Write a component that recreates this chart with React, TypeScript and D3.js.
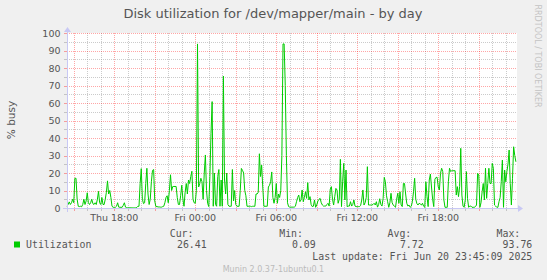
import React from "react";
import * as d3 from "d3";

// ---- data (5-minute samples starting Thu 14:30, hours offset) ----
const STEP_HOURS = 5 / 60;
const SPAN_HOURS = 120000 / 3600; // Thu 14:30 -> Fri 23:50

const utilization: number[] = [
  1, 2, 3.5, 2, 3, 5, 3, 17, 17, 5, 1, 0.8, 1, 0.7, 2, 5, 2, 4, 8.7, 3,
  2, 3, 5, 2.5, 2, 3, 2, 5, 9.5, 3, 2, 6, 2, 2, 5, 9, 15.5, 8, 10, 6,
  1, 0.4, 0.4, 0.4, 1, 3, 0.5, 0.4, 0.4, 0.4, 1.5, 3, 0.5, 0.2, 0.1, 0.1, 0.1, 0.1, 0.1, 0.1,
  0.1, 0.1, 0.3, 1, 1, 14, 22.5, 5, 2.5, 3, 14, 22.7, 8, 2, 5, 15, 21.5, 22, 4, 0.8,
  0.8, 0.6, 0.6, 0.5, 0.5, 0.8, 1, 3, 6, 7, 3, 10, 19, 10, 12.3, 12.3, 12.3, 12.3, 6, 2,
  2, 7, 13, 5, 1, 9, 14, 8, 16, 14, 18, 21, 5, 3, 2.7, 10, 93.76, 12, 14, 17,
  15, 5, 20, 30.3, 10, 2.7, 0.8, 18, 42.7, 60.8, 1, 20, 2, 1, 18, 22, 1, 16, 1, 75.4,
  16, 8, 20, 2, 1, 1, 1, 22, 4, 10, 2, 1, 1, 1, 10, 22.6, 21.5, 20, 10, 7,
  1, 1, 1, 1, 0.8, 1, 1, 1, 8, 8, 9, 31, 18, 24.5, 12, 1, 1, 1, 1, 12,
  13, 15, 20.6, 6, 2.7, 6, 14, 2.7, 8, 6, 10, 30, 93.76, 93.76, 70, 30, 3, 0.8, 0.5, 0.5,
  0.5, 0.5, 0.5, 1, 3.6, 6, 7.4, 3.6, 4.6, 10.3, 3.6, 6, 9.3, 5.5, 14.5, 4.6, 6.5, 2, 0.8, 1,
  4.6, 0.4, 1.7, 4, 5, 5.5, 3, 1.7, 1.1, 1.1, 1.1, 2, 2.7, 1.1, 10.7, 12.2, 5, 1.7, 6.5, 11.2,
  10.3, 2.7, 5, 27.8, 0.8, 15, 25.5, 4.6, 21.7, 0.8, 1.1, 1.1, 3.6, 1.1, 2, 4.6, 1.1, 0.8, 0.8, 0.8,
  0.8, 1.5, 4.6, 10.3, 1.7, 3, 6, 23.6, 1.7, 1.7, 1.7, 1.7, 2, 2.7, 1.7, 3.6, 0.5, 2, 5.3, 2,
  1.1, 5.5, 17.5, 15, 7, 3.6, 0.4, 3, 8.4, 3, 1.7, 1, 0.4, 5, 8.4, 2.7, 9.3, 1.7, 0.8, 14,
  14, 8, 2.7, 1.1, 1.7, 0.4, 1, 3.6, 9.3, 17, 5, 2.5, 1.7, 2.7, 2.3, 1.7, 2.7, 1, 0.4, 15,
  6.5, 0.8, 16, 19.4, 12, 5, 0.8, 16.4, 17.5, 17.5, 12, 10.3, 19.8, 22.7, 20.8, 4.6, 0.4, 0.4, 0.4, 15,
  22.7, 20.8, 21.3, 21.3, 21.3, 21.3, 7.4, 12.2, 6.5, 12.2, 34.1, 7.4, 1.1, 0.4, 4.6, 20.8, 5.5, 0.4, 1.1, 1.1,
  0.4, 0.4, 0.4, 0.8, 1.7, 19.8, 18.9, 0.4, 3, 9.3, 14, 4.6, 22.7, 5.5, 14, 22.7, 14, 14, 25.5, 22.7,
  1.7, 1.1, 0.4, 0.4, 3.6, 6, 15, 27.4, 0.4, 21.7, 15, 20.8, 25, 33.1, 14, 1.7, 17, 35, 30, 26.41,
];

const yTicks: number[] = [0, 10, 20, 30, 40, 50, 60, 70, 80, 90, 100];
const xTickLabels: string[] = ["Thu 18:00", "Fri 00:00", "Fri 06:00", "Fri 12:00", "Fri 18:00"];
const xTickHours: number[] = [3.5, 9.5, 15.5, 21.5, 27.5];

const legendStats = { cur: "26.41", min: "0.09", avg: "7.72", max: "93.76" };

const W = 547;
const H = 280;
const X0 = 67;
const X1 = 517;
const Y0 = 208;
const Y1 = 33;

const TEXT = "#555555";
const MGRID = "rgba(255,0,0,0.35)";
const GRID = "rgba(160,160,160,0.55)";
const AXIS = "#c8c8f4";
const SANS = "'DejaVu Sans', sans-serif";
const MONO = "'DejaVu Sans Mono', monospace";

export default function App() {
  const x = d3.scaleLinear().domain([0, SPAN_HOURS]).range([X0, X1]);
  const y = d3.scaleLinear().domain([0, 100]).range([Y0, Y1]);

  const line = d3
    .line<number>()
    .x((_, i) => x(i * STEP_HOURS))
    .y((d) => y(d));

  const minorH = d3.range(5, 100, 10);
  const majorH = d3.range(10, 101, 10);
  const hours = d3.range(0.5, SPAN_HOURS, 1);
  const minorV = hours.filter((h) => Math.round(h - 0.5) % 3 !== 0);
  const majorV = hours.filter((h) => Math.round(h - 0.5) % 3 === 0);

  return (
    <svg
      width={W}
      height={H}
      style={{ position: "fixed", left: 0, top: 0, background: "#f0f0f0" }}
    >
      <rect x={0} y={0} width={W} height={H} fill="#f0f0f0" />
      <rect x={X0} y={Y1} width={X1 - X0} height={Y0 - Y1} fill="#ffffff" />

      {/* grid */}
      <g shapeRendering="crispEdges">
        {minorH.map((v) => (
          <line key={"mh" + v} x1={X0} x2={X1} y1={Math.round(y(v)) + 0.5} y2={Math.round(y(v)) + 0.5} stroke={GRID} strokeDasharray="1,1" />
        ))}
        {minorV.map((h) => (
          <line key={"mv" + h} x1={Math.round(x(h)) + 0.5} x2={Math.round(x(h)) + 0.5} y1={Y1} y2={Y0} stroke={GRID} strokeDasharray="1,1" />
        ))}
        {majorH.map((v) => (
          <line key={"Mh" + v} x1={X0} x2={X1} y1={Math.round(y(v)) + 0.5} y2={Math.round(y(v)) + 0.5} stroke={MGRID} strokeDasharray="1,1" />
        ))}
        {majorV.map((h) => (
          <line key={"Mv" + h} x1={Math.round(x(h)) + 0.5} x2={Math.round(x(h)) + 0.5} y1={Y1} y2={Y0} stroke={MGRID} strokeDasharray="1,1" />
        ))}
        {/* ticks */}
        {minorV.map((h) => (
          <line key={"tv" + h} x1={Math.round(x(h)) + 0.5} x2={Math.round(x(h)) + 0.5} y1={Y0} y2={Y0 + 3} stroke={GRID} />
        ))}
        {majorV.map((h) => (
          <line key={"Tv" + h} x1={Math.round(x(h)) + 0.5} x2={Math.round(x(h)) + 0.5} y1={Y0} y2={Y0 + 3} stroke={MGRID} />
        ))}
        {minorH.map((v) => (
          <line key={"th" + v} x1={X0 - 3} x2={X0} y1={Math.round(y(v)) + 0.5} y2={Math.round(y(v)) + 0.5} stroke={GRID} />
        ))}
        {majorH.map((v) => (
          <line key={"Th" + v} x1={X0 - 3} x2={X0} y1={Math.round(y(v)) + 0.5} y2={Math.round(y(v)) + 0.5} stroke={MGRID} />
        ))}
      </g>

      {/* data */}
      <path d={line(utilization) || ""} fill="none" stroke="#00cc00" strokeWidth={1} strokeLinejoin="round" />

      {/* axes */}
      <g shapeRendering="crispEdges">
        <line x1={X0 - 4} x2={X1 + 2} y1={Y0 + 0.5} y2={Y0 + 0.5} stroke={AXIS} />
        <line x1={X0 + 0.5} x2={X0 + 0.5} y1={Y0 + 4} y2={Y1 - 2} stroke={AXIS} />
      </g>
      <path d={`M${X1 + 1},${Y0 - 3} L${X1 + 6},${Y0 + 0.5} L${X1 + 1},${Y0 + 4} Z`} fill={AXIS} />
      <path d={`M${X0 - 3},${Y1 - 1} L${X0 + 0.5},${Y1 - 6} L${X0 + 4},${Y1 - 1} Z`} fill={AXIS} />

      {/* y tick labels */}
      {yTicks.map((v) => (
        <text key={"yl" + v} x={60.5} y={y(v) + 3.5} textAnchor="end" fontFamily={SANS} fontSize={9.5} fill={TEXT}>
          {v}
        </text>
      ))}
      {/* x tick labels */}
      {xTickLabels.map((t, i) => (
        <text key={t} x={x(xTickHours[i])} y={221} textAnchor="middle" fontFamily={SANS} fontSize={9.5} fill={TEXT}>
          {t}
        </text>
      ))}

      {/* title */}
      <text x={273} y={18} textAnchor="middle" fontFamily={SANS} fontSize={13} fill={TEXT}>
        Disk utilization for /dev/mapper/main - by day
      </text>
      {/* y label */}
      <text transform="translate(14.5,120) rotate(-90)" textAnchor="middle" fontFamily={SANS} fontSize={10.5} fill={TEXT}>
        % busy
      </text>
      {/* rrdtool watermark */}
      <text transform="translate(535,56) rotate(90)" textAnchor="middle" fontFamily={SANS} fontSize={8} fill="#c4c4c4">
        RRDTOOL / TOBI OETIKER
      </text>

      {/* legend */}
      <rect x={14} y={241.5} width={6} height={6} fill="#00cc00" />
      <g fontFamily={MONO} fontSize={9.9} fill={TEXT}>
        <text x={26} y={247.5}>Utilization</text>
        <text x={193.5} y={236.5} textAnchor="end">Cur:</text>
        <text x={206.7} y={247.5} textAnchor="end">{legendStats.cur}</text>
        <text x={303} y={236.5} textAnchor="end">Min:</text>
        <text x={315.7} y={247.5} textAnchor="end">{legendStats.min}</text>
        <text x={411.3} y={236.5} textAnchor="end">Avg:</text>
        <text x={423.7} y={247.5} textAnchor="end">{legendStats.avg}</text>
        <text x={520.3} y={236.5} textAnchor="end">Max:</text>
        <text x={532.3} y={247.5} textAnchor="end">{legendStats.max}</text>
        <text x={532.3} y={259.5} textAnchor="end">Last update: Fri Jun 20 23:45:09 2025</text>
      </g>
      <text x={222.7} y={271.5} fontFamily={SANS} fontSize={8} fill="#bbbbbb">
        Munin 2.0.37-1ubuntu0.1
      </text>
    </svg>
  );
}
